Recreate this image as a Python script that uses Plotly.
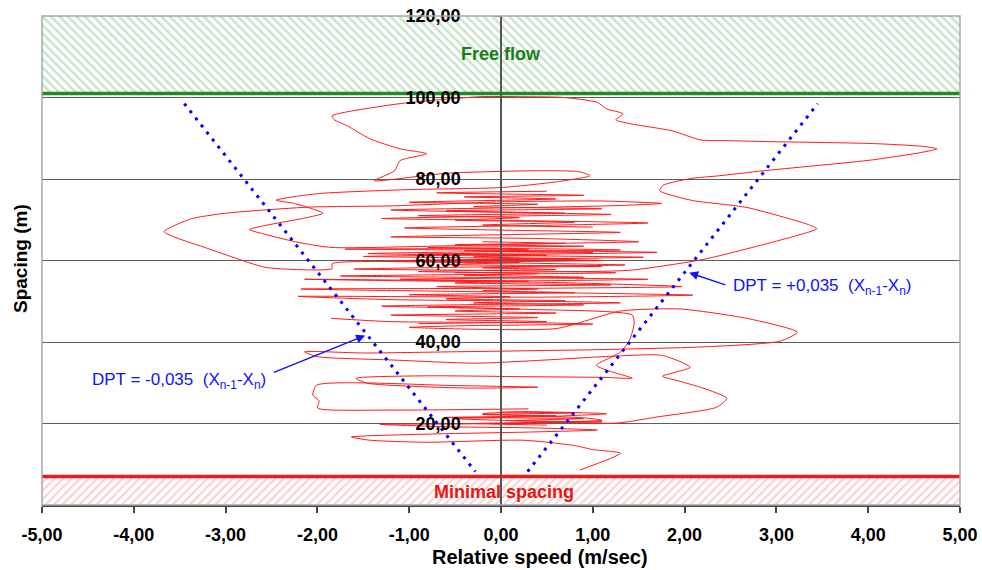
import plotly.graph_objects as go

# ---------------- data ----------------
x_ticks = [-5, -4, -3, -2, -1, 0, 1, 2, 3, 4, 5]
x_tick_labels = ["-5,00", "-4,00", "-3,00", "-2,00", "-1,00", "0,00",
                 "1,00", "2,00", "3,00", "4,00", "5,00"]
y_ticks = [20, 40, 60, 80, 100, 120]
y_tick_labels = ["20,00", "40,00", "60,00", "80,00", "100,00", "120,00"]

FREE_FLOW_MIN = 101.0   # spacing above which traffic is free flow
MIN_SPACING = 7.0       # minimal spacing
Y_MAX = 120.0

# DPT threshold lines (relative speed vs spacing)
dpt_neg_speed = [-3.45, -0.28]
dpt_neg_spacing = [98.5, 8.2]
dpt_pos_speed = [0.29, 3.45]
dpt_pos_spacing = [8.2, 98.5]

# Follower trajectory: relative speed (m/s) and spacing (m)
rel_speed = [
    -0.5, 0.5, 1.4, 2.09, 2.31, 3.04, 3.44, 3.35, 2.68, 2.09,
    1.8, 1.73, 1.76, 2.06, 2.38, 2.85, 4.05, 4.6, 4.75, 4.6, 4.05, 2.85, 2.5, 2.17,
    1.87, 1.40, 1.25, 1.33, 1.15, 1.05, 0.69, 0.2, -0.23, -1.1, -1.84, -1.82, -1.68,
    -1.43, -1.1, -0.81, -1.1, -1.16, -1.38,
    -0.6, 0.3, 0.85, 0.97, 0.6, 0.0, -1.0, -2.0, -2.45, -2.25, -1.94, -2.1, -2.74,
    -2.6, -2.2, -1.84, -0.6, 0.6, 1.5,
    0.4, -1.2, 0.2, 1.3, -0.1, -1.05, 0.4, 1.6, 0.2, -1.3, 0.1, 1.2, -0.2, -1.2,
    0.3, 1.3, 1.75, 1.1, 0.0, -1.2,
    -2.09, -3.0, -3.38, -3.67, -3.54, -3.2, -2.92, -2.56, -1.84, -1.84,
    -0.5, 1.1, -0.2, -1.5, 0.3, 1.7, 0.0, -1.7, 0.2, 1.3, -0.4, -1.45, 0.1, 1.55,
    0.0, -1.2, 0.4, 1.35, -0.3, -1.6, 0.2, 1.25, -0.2, -1.75, 0.0, 1.6, 0.2, -2.14,
    -1.0, 0.6, 1.97, 0.5, -2.18, -0.8, 0.9, 2.09, 0.4, -2.21, -1.2, 0.5, 1.3, -0.2,
    -1.3, 0.3, 1.43, 1.45, 1.4, 1.3, 1.04, 1.15, 1.43, 1.15, 0.2, -0.8, -1.58,
    -1.46, -0.37, 0.4, -0.5, -2.01, -2.05, -1.98, -2.0, -1.18, 0.3, None,
    -1.85, -1.2, 0.2, 1.0, -0.4, -1.0, 0.6, 1.3,
    1.95, 2.68, 3.23, 3.04, 2.2, 1.0, -0.5, -1.5, -2.14, -2.0, -1.2, -0.27, 0.5, 1.2,
    1.76, 2.06, 1.76, 1.91, 2.2, 2.46, 2.35, 1.7, 1.26,
    0.3, -0.5, 0.6, 1.15, 0.2, -0.2, 0.9, 1.1, -0.4, -1.32, -0.6, 0.4, 1.05, 0.3,
    -0.8, -1.63, -1.43, -0.81, 0.24, 0.8, 1.0, 1.30, 0.86, None,
    # dense central oscillations
    0.5, -0.7, 0.9, -0.4, 0.6, -1.0, 0.4, -0.3, 1.1, -0.6, 0.7, -0.9, 0.2,
    -0.5, 0.8, -0.2, 1.0, None,
    -0.2, 0.7, -0.5, 0.9, -0.8, 0.3, -0.4, 1.0, -0.9, 0.5, -0.3, 0.8, -1.0, 0.2,
    -0.6, 1.1, -0.2, 0.6, -0.9, 0.4, -0.4, 0.9, -1.1, 0.3, -0.5, 1.2, -0.7, 0.4,
    -0.2, 0.8, -1.0, 0.1, -0.6, 0.7, -0.3, 0.9, -0.8, 0.2, -0.5, 0.6, -1.2, 0.4,
    -0.6, 0.5, -0.9, None,
    0.0, 0.8, -0.2, 0.6, -0.6, 0.9, 0.1, 1.1, -0.3, 0.5,
]
spacing = [
    57.0, 57.2, 57.6, 59.8, 60.8, 65.0, 67.8, 68.8, 73.0, 74.7,
    76.4, 77.1, 78.4, 80.1, 80.8, 82.0, 84.7, 86.6, 87.4, 88.0, 88.7, 89.2, 89.4, 89.6,
    91.8, 93.6, 94.5, 96.0, 97.2, 98.8, 100.0, 100.2, 100.2, 98.5, 95.5, 94.6, 93.1,
    89.9, 87.4, 86.2, 84.5, 82.0, 79.6,
    81.4, 82.0, 81.8, 80.8, 79.3, 77.9, 77.4, 76.4, 74.8, 74.0, 71.6, 70.6, 67.6,
    66.6, 64.4, 63.2, 63.6, 64.2, 64.6,
    65.4, 65.8, 66.4, 66.9, 67.5, 68.0, 68.6, 69.2, 69.8, 70.3, 70.9, 71.3, 71.9, 72.4,
    73.0, 73.5, 74.0, 74.6, 74.4, 73.4,
    73.1, 71.6, 70.2, 67.1, 65.6, 63.0, 60.8, 58.3, 58.0, 59.2,
    59.6, 60.0, 60.6, 61.0, 61.5, 62.0, 62.5, 62.8, 62.9, 62.6, 62.1, 61.7, 61.2, 60.8,
    60.3, 59.9, 59.3, 58.9, 58.4, 57.9, 57.5, 57.0, 56.6, 56.2, 55.8, 55.4, 55.0, 55.4,
    55.0, 54.6, 53.6, 53.2, 53.0, 52.5, 52.0, 51.5, 51.0, 51.2, 50.4, 50.0, 49.6, 49.2,
    48.8, 48.0, 46.6, 44.5, 40.4, 37.5, 34.3, 33.1, 31.1, 31.3, 31.5, 31.7, 31.1,
    29.9, 28.7, 28.9, 29.3, 29.4, 27.0, 25.5, 23.8, 23.3, 23.6, None,
    45.8, 45.0, 44.8, 44.4, 44.0, 43.6, 43.3, 47.6,
    48.1, 45.8, 42.4, 40.2, 38.8, 38.1, 37.6, 37.3, 37.6, 36.4, 35.6, 34.8, 35.6, 36.5,
    36.7, 33.8, 31.6, 30.6, 28.7, 26.2, 24.0, 21.6, 20.1,
    20.6, 21.2, 21.8, 22.4, 22.9, 22.4, 21.4, 20.8, 19.9, 19.8, 19.2, 18.9, 18.4, 17.9,
    17.4, 16.7, 15.9, 15.4, 15.9, 14.6, 13.6, 12.7, 8.6, None,
    77.0, 76.6, 76.0, 75.6, 75.1, 74.3, 73.8, 73.2, 72.7, 72.2, 71.6, 71.0, 70.5,
    69.9, 69.4, 68.7, 68.2, None,
    64.6, 64.2, 63.9, 63.5, 63.2, 62.8, 62.4, 62.0, 61.6, 61.3, 60.9, 60.4, 60.0, 59.5,
    59.0, 58.6, 58.2, 57.8, 57.3, 56.8, 56.4, 55.9, 55.4, 54.9, 54.5, 54.0, 53.6, 53.0,
    52.6, 52.1, 51.6, 51.1, 50.6, 50.1, 49.6, 49.1, 48.6, 48.1, 47.6, 47.1, 46.6, 46.0,
    45.5, 45.0, 44.5, None,
    22.8, 22.6, 22.2, 21.9, 21.5, 21.2, 20.7, 20.4, 20.0, 19.6,
]

FONT = "Liberation Sans, Arial, sans-serif"

fig = go.Figure()

# Free-flow band (hatched green)
fig.add_trace(go.Scatter(
    x=[x_ticks[0], x_ticks[-1], x_ticks[-1], x_ticks[0]],
    y=[FREE_FLOW_MIN, FREE_FLOW_MIN, Y_MAX, Y_MAX],
    fill="toself", mode="none", hoverinfo="skip", showlegend=False,
    fillcolor="white",
    fillpattern=dict(shape="\\", fgcolor="#96c896", bgcolor="white",
                     size=6, solidity=0.42),
))
# Minimal spacing band (hatched red)
fig.add_trace(go.Scatter(
    x=[x_ticks[0], x_ticks[-1], x_ticks[-1], x_ticks[0]],
    y=[0, 0, MIN_SPACING, MIN_SPACING],
    fill="toself", mode="none", hoverinfo="skip", showlegend=False,
    fillcolor="white",
    fillpattern=dict(shape="/", fgcolor="#f2a0a0", bgcolor="white",
                     size=6, solidity=0.35),
))
# Threshold lines
fig.add_trace(go.Scatter(
    x=[x_ticks[0], x_ticks[-1]], y=[FREE_FLOW_MIN, FREE_FLOW_MIN], mode="lines",
    line=dict(color="#1e8c1e", width=3.5), hoverinfo="skip", showlegend=False))
fig.add_trace(go.Scatter(
    x=[x_ticks[0], x_ticks[-1]], y=[MIN_SPACING, MIN_SPACING], mode="lines",
    line=dict(color="#f01818", width=3.5), hoverinfo="skip", showlegend=False))

# Trajectory
fig.add_trace(go.Scatter(
    x=rel_speed, y=spacing, mode="lines",
    line=dict(color="#ff1a1a", width=1, shape="spline", smoothing=0.6),
    connectgaps=False, showlegend=False))

# DPT lines
for xs, ys in ((dpt_neg_speed, dpt_neg_spacing), (dpt_pos_speed, dpt_pos_spacing)):
    fig.add_trace(go.Scatter(
        x=xs, y=ys, mode="lines",
        line=dict(color="#0000ff", width=3, dash="3px,6px"),
        showlegend=False))

fig.update_layout(
    width=982, height=570,
    margin=dict(l=42, r=22, t=16, b=65, autoexpand=False),
    paper_bgcolor="white", plot_bgcolor="white",
    font=dict(family=FONT, color="black"),
    xaxis=dict(
        range=[x_ticks[0], x_ticks[-1]], tickvals=x_ticks, ticktext=x_tick_labels,
        showgrid=False, zeroline=False, automargin=False,
        showline=True, linecolor="#444", linewidth=1.5,
        ticks="outside", ticklen=6, tickcolor="#444", tickwidth=1.5,
        ticklabelstandoff=7,
        tickfont=dict(size=18, weight="bold", family=FONT, color="black"),
    ),
    yaxis=dict(
        range=[0, Y_MAX], tickvals=y_ticks, ticktext=y_tick_labels,
        anchor="free", position=0.5, automargin=False,
        showgrid=True, gridcolor="#5e5e5e", gridwidth=1.4,
        zeroline=False,
        showline=True, linecolor="#555", linewidth=1.5,
        ticks="outside", ticklen=5, tickcolor="#555",
        ticklabelstandoff=31,
        tickfont=dict(size=18, weight="bold", family=FONT, color="black"),
    ),
)

# Plot border (left, right, top)
fig.add_shape(type="rect", xref="paper", yref="paper", x0=0, x1=1, y0=0, y1=1,
              line=dict(color="#a8a8a8", width=1.5), layer="above")

blue = "#1010ff"
sub_txt = "(X<sub>n-1</sub>-X<sub>n</sub>)"
fig.add_annotation(x=-3.51, y=30.4, xref="x", yref="y", showarrow=False,
                   xanchor="center", yanchor="middle",
                   text="DPT = -0,035\u00a0\u00a0" + sub_txt,
                   font=dict(size=17, color=blue, family=FONT))
fig.add_annotation(x=-1.48, y=41.6, ax=-2.49, ay=32.4, xref="x", yref="y",
                   axref="x", ayref="y", text="", showarrow=True,
                   arrowhead=2, arrowsize=1.2, arrowwidth=1.5, arrowcolor=blue)
fig.add_annotation(x=3.50, y=53.5, xref="x", yref="y", showarrow=False,
                   xanchor="center", yanchor="middle",
                   text="DPT = +0,035\u00a0\u00a0" + sub_txt,
                   font=dict(size=17, color=blue, family=FONT))
fig.add_annotation(x=2.05, y=57.0, ax=2.46, ay=53.9, xref="x", yref="y",
                   axref="x", ayref="y", text="", showarrow=True,
                   arrowhead=2, arrowsize=1.2, arrowwidth=1.5, arrowcolor=blue)

fig.add_annotation(x=0.0, y=110.7, xref="x", yref="y", showarrow=False,
                   xanchor="center", yanchor="middle",
                   text="<b>Free flow</b>",
                   font=dict(size=18, color="#1a7d1a", family=FONT))
fig.add_annotation(x=0.03, y=3.3, xref="x", yref="y", showarrow=False,
                   xanchor="center", yanchor="middle",
                   text="<b>Minimal spacing</b>",
                   font=dict(size=18, color="#e81515", family=FONT))

fig.add_annotation(x=-0.024, y=0.505, xref="paper", yref="paper", showarrow=False,
                   xanchor="center", yanchor="middle",
                   text="<b>Spacing (m)</b>", textangle=-90,
                   font=dict(size=19, color="black", family=FONT))
fig.add_annotation(x=0.5425, y=-0.106, xref="paper", yref="paper", showarrow=False,
                   xanchor="center", yanchor="middle",
                   text="<b>Relative speed (m/sec)</b>",
                   font=dict(size=20, color="black", family=FONT))

fig.write_html("out.html")
